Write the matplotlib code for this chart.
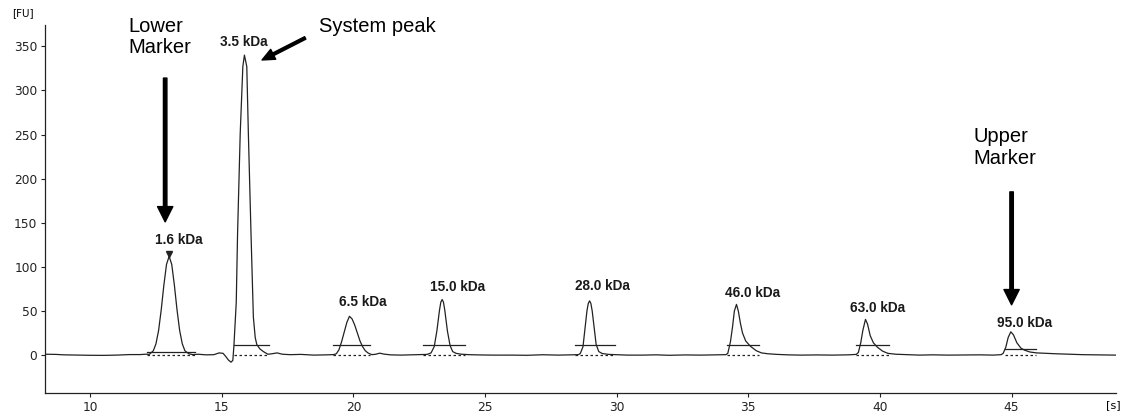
import matplotlib
matplotlib.use("Agg")
import matplotlib.pyplot as plt

# electropherogram trace (time [s], fluorescence [FU])
trace_t = [8.3, 8.7, 9.0, 9.5, 10.0, 10.5, 11.0, 11.5, 11.9, 12.1,
           12.25, 12.4, 12.5, 12.6, 12.7, 12.8, 12.9, 13.0, 13.1, 13.2, 13.3, 13.4, 13.5, 13.6, 13.75, 13.9,
           14.1, 14.4, 14.7, 14.9, 15.05, 15.15, 15.25, 15.35, 15.42,
           15.46, 15.55, 15.6, 15.7, 15.8, 15.86, 15.95, 16.01, 16.11, 16.2, 16.27, 16.33, 16.45, 16.58, 16.75,
           16.9, 17.1, 17.3, 17.6, 18.0, 18.5, 19.0, 19.25,
           19.35, 19.45, 19.55, 19.65, 19.75, 19.85, 19.95, 20.05, 20.15, 20.25, 20.35, 20.45, 20.55, 20.7,
           20.85, 21.0, 21.15, 21.4, 21.8, 22.2, 22.6,
           22.8, 22.95, 23.07, 23.17, 23.27, 23.32, 23.37, 23.42, 23.47, 23.57, 23.67, 23.77, 23.9,
           24.1, 24.4, 24.8, 25.3, 26.0, 26.6, 27.2, 27.8, 28.3, 28.55,
           28.62, 28.72, 28.82, 28.87, 28.92, 28.97, 29.02, 29.07, 29.12, 29.22, 29.32, 29.45,
           29.7, 30.0, 30.4, 31.0, 31.5, 32.0, 32.6, 33.2, 33.8, 34.15,
           34.22, 34.32, 34.4, 34.47, 34.55, 34.62, 34.7, 34.78, 34.9, 35.08, 35.3, 35.5, 35.75,
           36.1, 36.5, 37.0, 37.6, 38.2, 38.8, 39.1,
           39.18, 39.27, 39.35, 39.45, 39.53, 39.63, 39.75, 39.9, 40.1, 40.3, 40.6,
           41.0, 41.5, 42.0, 42.6, 43.2, 43.8, 44.3, 44.6,
           44.68, 44.78, 44.87, 44.97, 45.07, 45.2, 45.35, 45.5, 45.7, 45.95,
           46.3, 46.7, 47.2, 47.7, 48.3, 48.95]
trace_fu = [1.0, 0.8, 0.3, 0.0, -0.2, -0.3, 0.0, 0.6, 0.6, 1.0,
            0.9, 4.9, 12.8, 27.9, 51.3, 79.2, 102.7, 112.0, 102.7, 79.2, 51.3, 27.9, 12.8, 4.9, 1.5, 0.5,
            1.0, 0.3, 0.5, 2.5, 2.0, -1.5, -5.5, -8.0, -6.0,
            10.0, 60.0, 138.0, 251.0, 327.0, 340.0, 327.0, 251.0, 138.0, 43.0, 20.0, 12.0, 7.0, 4.0, 1.0,
            1.5, 2.5, 1.0, 0.5, 0.8, 0.0, 0.3, 0.6,
            1.5, 6.0, 15.0, 26.0, 37.0, 44.0, 41.0, 34.0, 25.0, 16.0, 9.5, 5.0, 2.5, 0.5,
            1.0, 2.2, 1.2, 0.3, 0.0, 0.3, 0.5,
            0.8, 2.5, 9.7, 27.4, 51.0, 60.0, 63.0, 60.0, 51.0, 27.4, 11.0, 4.0, 2.0,
            1.0, 0.5, 0.2, 0.0, 0.0, -0.2, 0.4, 0.0, 0.3, 0.5,
            2.0, 9.5, 37.0, 50.0, 58.5, 61.5, 58.5, 50.0, 37.0, 12.0, 4.0, 1.8,
            0.8, 0.5, 0.0, 0.0, 0.3, -0.2, 0.2, 0.0, 0.3, 0.5,
            2.0, 15.0, 32.0, 50.0, 57.5, 50.0, 36.0, 25.0, 16.0, 10.0, 5.0, 2.5, 1.5,
            0.8, 0.3, 0.0, 0.2, 0.0, 0.3, 0.8,
            3.0, 14.0, 28.0, 40.5, 35.0, 22.0, 14.0, 9.0, 4.5, 2.0, 1.0,
            0.5, 0.0, 0.3, 0.0, 0.2, 0.3, 0.0, 0.5,
            2.0, 9.0, 20.0, 26.4, 23.0, 14.0, 8.0, 5.5, 3.5, 2.5,
            2.0, 1.5, 1.0, 0.5, 0.3, 0.0]

# peak labels and their integration baselines
peak_labels = ["1.6 kDa", "3.5 kDa", "6.5 kDa", "15.0 kDa", "28.0 kDa", "46.0 kDa", "63.0 kDa", "95.0 kDa"]
label_t = [13.38, 15.85, 20.37, 23.96, 29.44, 35.17, 39.89, 45.48]
label_fu = [130, 355, 60, 77, 78.5, 70.6, 53.6, 36.6]
base_start = [12.15, 15.45, 19.24, 22.63, 28.43, 34.19, 39.1, 44.75]
base_end = [13.99, 16.8, 20.64, 24.25, 29.95, 35.39, 40.33, 45.93]
base_level = [3, 12, 12, 12, 12, 12, 12, 6.5]

fig = plt.figure(figsize=(11.28, 4.12), dpi=100)
ax = fig.add_axes([0.040, 0.046, 0.949, 0.893])

ax.plot(trace_t, trace_fu, color="#222222", lw=0.9)

for i in range(len(peak_labels)):
    ax.plot([base_start[i], base_end[i]], [base_level[i], base_level[i]], color="#222222", lw=0.9)
    ax.plot([base_start[i], base_end[i]], [0, 0], color="#222222", lw=0.9, ls=(0, (2, 2)))
    ax.text(label_t[i], label_fu[i], peak_labels[i], ha="center", va="center",
            fontsize=9.8, fontweight="bold", family="Liberation Sans", color="#1a1a1a")

# lower marker tick
ax.plot([12.98], [115], marker="v", color="#222222", ms=5)

arrow = dict(facecolor="black", edgecolor="black", width=2.5, headwidth=11, headlength=11, shrink=0)
ax.annotate("", xy=(12.85, 151), xytext=(12.85, 314), arrowprops=arrow)
ax.annotate("", xy=(45.0, 57), xytext=(45.0, 185), arrowprops=arrow)
ax.annotate("", xy=(16.53, 334.5), xytext=(18.17, 359.5),
            arrowprops=dict(facecolor="black", edgecolor="black", width=2, headwidth=8, headlength=9, shrink=0),
            annotation_clip=False)

big = dict(fontsize=14.5, family="Liberation Sans", ha="left", va="baseline", clip_on=False)
ax.text(11.44, 366, "Lower", **big)
ax.text(11.44, 342.4, "Marker", **big)
ax.text(18.71, 366.6, "System peak", **big)
ax.text(43.55, 241.5, "Upper", **big)
ax.text(43.55, 216.5, "Marker", **big)

ax.set_xlim(8.29, 48.95)
ax.set_ylim(-43, 374)
ax.set_xticks([10, 15, 20, 25, 30, 35, 40, 45])
ax.set_yticks([0, 50, 100, 150, 200, 250, 300, 350])
ax.tick_params(labelsize=8.8, length=3, width=0.8, colors="#222222", pad=2.5)
for s in ["top", "right"]:
    ax.spines[s].set_visible(False)
for s in ["left", "bottom"]:
    ax.spines[s].set_color("#222222")
    ax.spines[s].set_linewidth(0.9)

ax.text(-0.021, 1.02, "[FU]", transform=ax.transAxes, fontsize=7.5, ha="center", va="bottom")
fig.text(1121 / 1128, 1 - 405 / 412, "[s]", fontsize=8, ha="right", va="center")

fig.savefig("out.png", dpi=100)
